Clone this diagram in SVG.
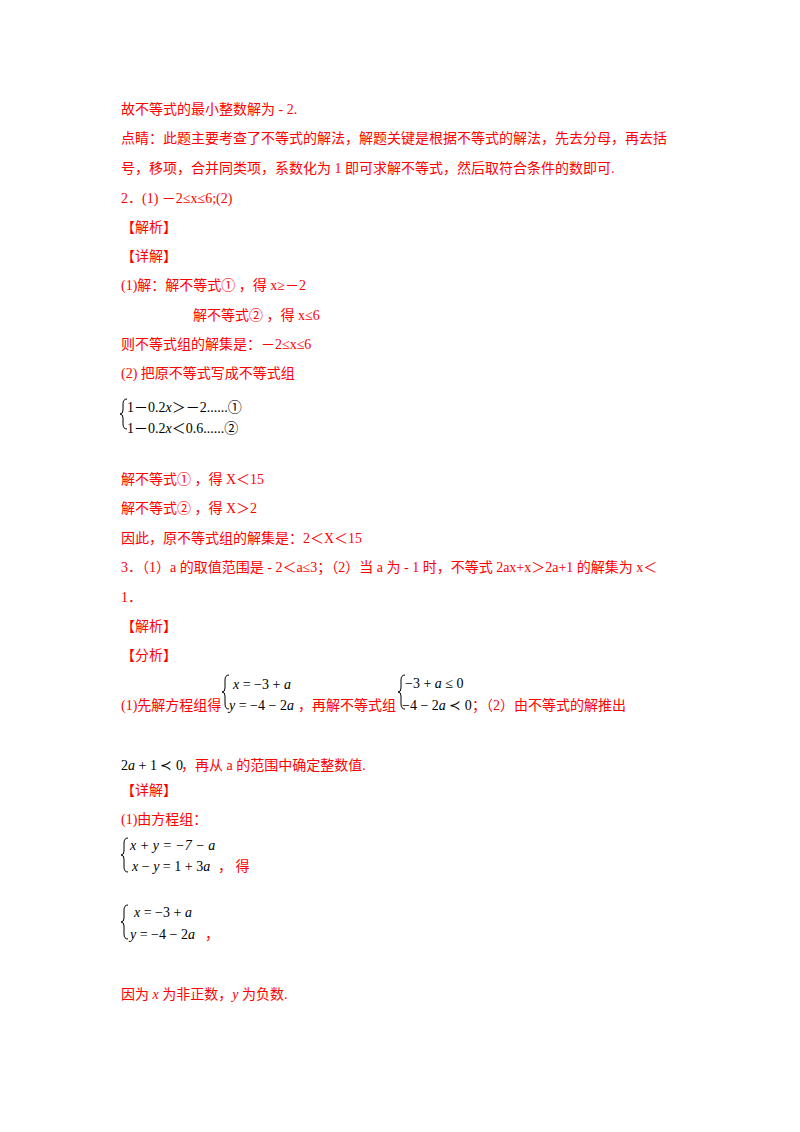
<svg xmlns="http://www.w3.org/2000/svg" width="800" height="1132" viewBox="0 0 800 1132">
<style>
text{font-family:"Liberation Serif","Noto Sans CJK SC",serif;font-size:14px}
.r{fill:#ff0000}
.k{fill:#000}
.i{font-style:italic}
.b{fill:none;stroke:#000;stroke-width:1}
</style>
<rect width="800" height="1132" fill="#fff"/>
<text class="r" x="121" y="114">故不等式的最小整数解为 - 2.</text>
<text class="r" x="121" y="143">点睛：此题主要考查了不等式的解法，解题关键是根据不等式的解法，先去分母，再去括</text>
<text class="r" x="121" y="173">号，移项，合并同类项，系数化为 1 即可求解不等式，然后取符合条件的数即可.</text>
<text class="r" x="121" y="203">2．(1) －2≤x≤6;(2)</text>
<text class="r" x="121" y="232">【解析】</text>
<text class="r" x="121" y="261">【详解】</text>
<text class="r" x="121" y="290">(1)解：解不等式① ，得 x≥－2</text>
<text class="r" x="193" y="320">解不等式② ，得 x≤6</text>
<text class="r" x="121" y="349">则不等式组的解集是：－2≤x≤6</text>
<text class="r" x="121" y="378">(2) 把原不等式写成不等式组</text>
<path class="b" d="M127,399 q-4,0 -4,5 v6 q0,4 -3,4 q3,0 3,4 v6 q0,5 4,5"/>
<text class="k" x="127" y="412">1－0.2<tspan class="i">x</tspan>＞－2......①</text>
<text class="k" x="127" y="433">1－0.2<tspan class="i">x</tspan>＜0.6......②</text>
<text class="r" x="121" y="484">解不等式① ，得 X＜15</text>
<text class="r" x="121" y="513">解不等式② ，得 X＞2</text>
<text class="r" x="121" y="543">因此，原不等式组的解集是：2＜X＜15</text>
<text class="r" x="121" y="572">3．（1）a 的取值范围是 - 2＜a≤3；（2）当 a 为 - 1 时，不等式 2ax+x＞2a+1 的解集为 x＜</text>
<text class="r" x="121" y="602">1．</text>
<text class="r" x="121" y="631">【解析】</text>
<text class="r" x="121" y="660">【分析】</text>
<path class="b" d="M229,675 q-4,0 -4,5 v8 q0,4 -3,4 q3,0 3,4 v8 q0,5 4,5"/>
<text class="k" x="233" y="689"><tspan class="i">x</tspan> = −3 + <tspan class="i">a</tspan></text>
<text class="k" x="229" y="710"><tspan class="i">y</tspan> = −4 − 2<tspan class="i">a</tspan></text>
<path class="b" d="M405,675 q-4,0 -4,5 v8 q0,4 -3,4 q3,0 3,4 v8 q0,5 4,5"/>
<text class="k" x="405" y="688">−3 + <tspan class="i">a</tspan> ≤ 0</text>
<text class="k" x="402" y="710">−4 − 2<tspan class="i">a</tspan> ≺ 0</text>
<text class="r" x="121" y="710">(1)先解方程组得</text>
<text class="r" x="298" y="710">，再解不等式组</text>
<text class="r" x="472" y="710">；（2）由不等式的解推出</text>
<text class="k" x="121" y="770">2<tspan class="i">a</tspan> + 1 ≺ 0</text>
<text class="r" x="181" y="770">，再从 a 的范围中确定整数值.</text>
<text class="r" x="121" y="795">【详解】</text>
<text class="r" x="121" y="824">(1)由方程组：</text>
<path class="b" d="M128,838 q-4,0 -4,5 v8 q0,4 -3,4 q3,0 3,4 v8 q0,5 4,5"/>
<text class="k i" x="130" y="850">x + y = −7 − a</text>
<text class="k" x="132" y="871"><tspan class="i">x</tspan> − <tspan class="i">y</tspan> = 1 + 3<tspan class="i">a</tspan></text>
<text class="r" x="218" y="871">， 得</text>
<path class="b" d="M128,905 q-4,0 -4,5 v8 q0,4 -3,4 q3,0 3,4 v8 q0,5 4,5"/>
<text class="k" x="134" y="917"><tspan class="i">x</tspan> = −3 + <tspan class="i">a</tspan></text>
<text class="k" x="130" y="939"><tspan class="i">y</tspan> = −4 − 2<tspan class="i">a</tspan></text>
<text class="r" x="205" y="939">，</text>
<text class="r" x="121" y="999">因为 <tspan class="i">x</tspan> 为非正数，<tspan class="i">y</tspan> 为负数.</text>
</svg>
